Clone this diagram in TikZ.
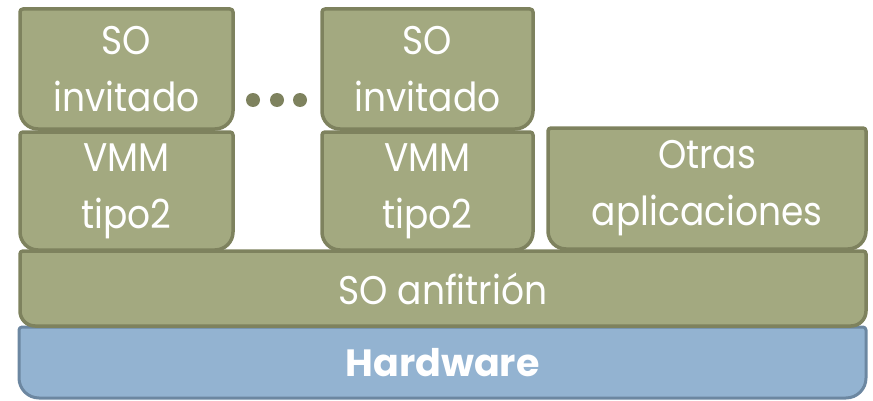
\documentclass[tikz,border=0pt]{standalone}
\usepackage{fontspec}
\setmainfont{Poppins}[FakeStretch=0.9]
\newfontfamily\hwfont{Poppins Bold}
\definecolor{olivefill}{HTML}{A3A980}
\definecolor{olivedraw}{HTML}{7E825E}
\definecolor{bluefill}{HTML}{93B3D1}
\definecolor{bluedraw}{HTML}{6C87A1}
\tikzset{
  olivebox/.style={fill=olivefill, draw=olivedraw, line width=3.5pt, line join=round},
  bluebox/.style={fill=bluefill, draw=bluedraw, line width=3pt, line join=round},
  boxtext/.style={text=white, align=center, inner sep=0pt,
    font=\fontsize{40}{57}\selectfont},
  dot/.style={fill=olivedraw, draw=none},
}
% Layer box: small rounding on top corners, larger rounding on the bottom ones.
% #1 style, #2 node name, #3 left, #4 top, #5 right, #6 bottom, #7 bottom radius, #8 text
\newcommand\layerbox[8]{%
  \draw[#1] (#3,{#4-3}) arc[start angle=180, end angle=90, radius=3pt]
    -- ({#5-3},#4) arc[start angle=90, end angle=0, radius=3pt]
    -- (#5,{#6+#7}) arc[start angle=0, end angle=-90, radius=#7pt]
    -- ({#3+#7},#6) arc[start angle=270, end angle=180, radius=#7pt]
    -- cycle;
  \node[boxtext] (#2) at ({(#3+#5)/2},{(#4+#6)/2}) {#8};
}
\begin{document}
\begin{tikzpicture}[x=1pt, y=1pt]
  \useasboundingbox (0,0) rectangle (873,400);
  % hardware and host OS
  \layerbox{bluebox}{hw}{19}{73}{866}{2}{20}{\hwfont\fontsize{38}{57}\selectfont Hardware}
  \layerbox{olivebox}{host}{20}{149}{866}{74}{15}{SO anfitrión}
  % hypervisors and other applications
  \layerbox{olivebox}{vmmA}{20}{268}{233}{150}{18}{VMM\\tipo2}
  \layerbox{olivebox}{vmmB}{322}{268}{533}{150}{18}{VMM\\tipo2}
  \layerbox{olivebox}{apps}{548}{272}{866}{151}{18}{Otras\\aplicaciones}
  % guest operating systems
  \layerbox{olivebox}{guestA}{20}{391}{233}{271}{18}{SO\\invitado}
  \layerbox{olivebox}{guestB}{322}{391}{533}{271}{18}{SO\\invitado}
  % ellipsis between the guests
  \fill[dot] (253,300) circle[radius=7pt];
  \fill[dot] (277,300) circle[radius=7pt];
  \fill[dot] (300,300) circle[radius=7pt];
\end{tikzpicture}
\end{document}
